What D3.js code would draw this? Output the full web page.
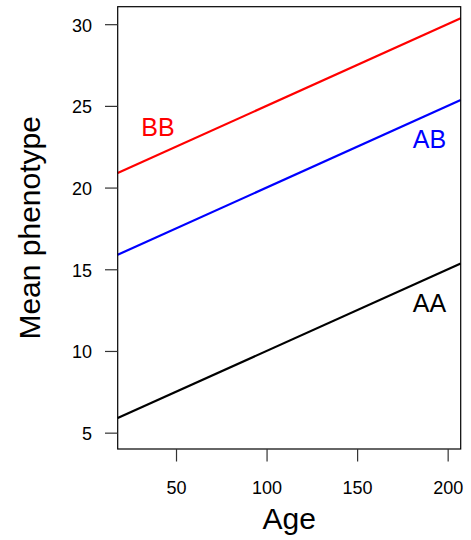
<!DOCTYPE html>
<html><head><meta charset="utf-8">
<script src="https://cdn.jsdelivr.net/npm/d3@7"></script>
<style>
html,body{margin:0;padding:0;background:#fff;}
svg{display:block;font-family:"Liberation Sans",Arial,Helvetica,sans-serif;}
</style></head>
<body><svg id="chart" width="471" height="540"></svg>
<script>
// Data
const ages = [17.8, 207.2];              // line endpoints at the plot edges
const genotypes = ["AA", "AB", "BB"];
const meanAA = [5.89, 15.36];
const meanAB = [15.89, 25.36];
const meanBB = [20.89, 30.36];
const colors = ["#000000", "#0000ff", "#ff0000"];
const labelAge = [190, 190, 40];
const labelMean = [12.95, 23.0, 23.7];
const xTicks = [50, 100, 150, 200];
const yTicks = [5, 10, 15, 20, 25, 30];

const series = [meanAA, meanAB, meanBB];

const W = 471, H = 540;
const m = {left: 117.7, right: 10.3, top: 6.7, bottom: 91};
const svg = d3.select("#chart");

const x = d3.scaleLinear().domain([17.8, 207.2]).range([m.left, W - m.right]);
const y = d3.scaleLinear().domain([4.0, 31.07]).range([H - m.bottom, m.top]);

// lines
const line = d3.line().x((d, i) => x(ages[i])).y(d => y(d));
series.forEach((s, k) => {
  svg.append("path").datum(s).attr("d", line)
    .attr("fill", "none").attr("stroke", colors[k]).attr("stroke-width", 2.2);
});

// labels
genotypes.forEach((g, k) => {
  svg.append("text").attr("x", x(labelAge[k])).attr("y", y(labelMean[k]) + 9)
    .attr("text-anchor", "middle").attr("font-size", 25).attr("fill", colors[k]).text(g);
});

// frame
svg.append("rect").attr("x", m.left).attr("y", m.top)
  .attr("width", W - m.right - m.left).attr("height", H - m.bottom - m.top)
  .attr("fill", "none").attr("stroke", "#000").attr("stroke-width", 1.2);

// x axis
const xAxis = d3.axisBottom(x).tickValues(xTicks).tickSize(12.5).tickPadding(0).tickFormat(d3.format("d"));
const gx = svg.append("g").attr("transform", `translate(0,${H - m.bottom})`).call(xAxis);
gx.select(".domain").remove();
gx.selectAll(".tick line").attr("stroke", "#333").attr("stroke-width", 1.2);
gx.selectAll(".tick text").attr("font-size", 18).attr("fill", "#000").attr("dy", null)
  .attr("y", 494 - (H - m.bottom)).attr("font-family", "Liberation Sans, Arial, sans-serif");

// y axis
const yAxis = d3.axisLeft(y).tickValues(yTicks).tickSize(12.7).tickPadding(0).tickFormat(d3.format("d"));
const gy = svg.append("g").attr("transform", `translate(${m.left},0)`).call(yAxis);
gy.select(".domain").remove();
gy.selectAll(".tick line").attr("stroke", "#333").attr("stroke-width", 1.2);
gy.selectAll(".tick text").attr("font-size", 18).attr("fill", "#000").attr("dy", null)
  .attr("x", 92 - m.left).attr("y", 7).attr("font-family", "Liberation Sans, Arial, sans-serif");

// axis titles
svg.append("text").attr("x", (m.left + W - m.right) / 2).attr("y", 529.3)
  .attr("text-anchor", "middle").attr("font-size", 30).attr("fill", "#000").text("Age");
svg.append("text").attr("transform", `translate(40,${(m.top + H - m.bottom) / 2}) rotate(-90)`)
  .attr("text-anchor", "middle").attr("font-size", 30).attr("fill", "#000").text("Mean phenotype");
</script></body></html>
